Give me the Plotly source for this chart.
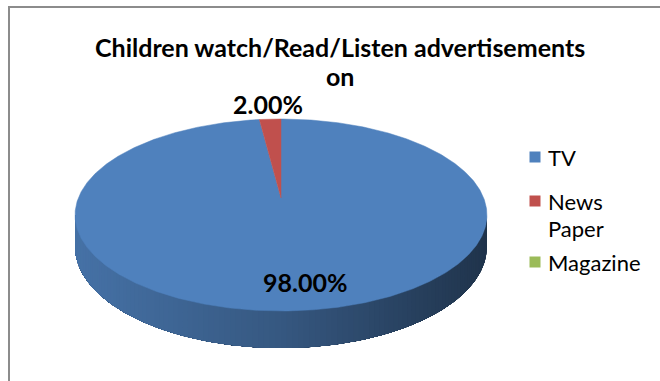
import numpy as np
import plotly.graph_objects as go

# ---- data -------------------------------------------------------------
categories = ["TV", "News Paper", "Magazine"]
values = [98.0, 2.0, 0.0]
colors = ["#4F81BD", "#C0504D", "#9BBB59"]
title_lines = ["Children watch/Read/Listen advertisements", "on"]

# ---- page geometry (pixel units, y grows downward) --------------------
W, H = 660, 381
CX, CY = 281.0, 198.0      # image of the pie centre
SX = 202.7                 # horizontal radius scale
A = 57.93                  # vertical radius scale
C = -0.177                 # perspective term (near edge looks larger)
DEPTH = 30.5               # thickness of the disc
FONT = "Lato"


def proj(u, v, drop=0.0):
    """Map a point of the unit disc (u right, v toward viewer) to the page."""
    w = 1.0 + C * v
    return CX + SX * u / w, (CY + A * v + drop) / w


def rim(theta_deg, drop=0.0):
    t = np.radians(theta_deg)
    return proj(np.sin(t), -np.cos(t), drop)


def hex_rgb(h):
    h = h.lstrip("#")
    return tuple(int(h[i:i + 2], 16) for i in (0, 2, 4))


def shade(h, f):
    r, g, b = hex_rgb(h)
    return "rgb(%d,%d,%d)" % (round(r * f), round(g * f), round(b * f))


total = float(sum(values))
bounds = np.concatenate([[0.0], np.cumsum(values) / total * 360.0])

fig = go.Figure()

# ---- side wall: the visible front rim, shaded left-to-right -----------
# Each band covers from its own start to the far end of the wall, so the
# next band paints over it and no seams show between neighbours.
lim = np.degrees(np.arcsin(-C))
th_right, th_left = 90.0 + lim, 270.0 - lim
edges = np.linspace(th_right, th_left, 121)
for a0, a1 in zip(edges[:-1], edges[1:]):
    mid = 0.5 * (a0 + a1)
    k = int(np.searchsorted(bounds, mid, side="right") - 1)
    k = min(max(k, 0), len(values) - 1)
    arc = np.linspace(a0, th_left, max(int((th_left - a0) * 2), 3))
    xt, yt = rim(arc)
    xb, yb = rim(arc[::-1], DEPTH)
    xs = np.concatenate([xt, xb, [xt[0]]])
    ys = np.concatenate([yt, yb, [yt[0]]])
    xm = rim(mid)[0]
    f = np.interp(xm, [75, 281, 487], [0.88, 0.68, 0.40])
    col = shade(colors[k], f)
    fig.add_trace(go.Scatter(x=xs, y=ys, mode="lines", fill="toself",
                             fillcolor=col, line=dict(width=0),
                             hoverinfo="skip", showlegend=False))

# ---- top face slices ---------------------------------------------------
for k, (name, val) in enumerate(zip(categories, values)):
    if val <= 0:
        continue
    a0, a1 = bounds[k], bounds[k + 1]
    n = max(int((a1 - a0) * 2), 4)
    xa, ya = rim(np.linspace(a0, a1, n))
    xs = np.concatenate([[CX], xa, [CX]])
    ys = np.concatenate([[CY], ya, [CY]])
    fig.add_trace(go.Scatter(x=xs, y=ys, mode="lines", fill="toself",
                             fillcolor=colors[k],
                             line=dict(color=colors[k], width=0.5),
                             name=name, showlegend=False,
                             hovertemplate=name + ": %{text}<extra></extra>",
                             text=["%.2f%%" % (val / total * 100)] * len(xs)))

# ---- data labels -------------------------------------------------------
annotations = []
for k, val in enumerate(values):
    if val <= 0:
        continue
    pct = val / total * 100
    mid = np.radians(0.5 * (bounds[k] + bounds[k + 1]))
    r = 0.78 if pct > 10 else 1.24
    lx, ly = proj(r * np.sin(mid), -r * np.cos(mid))
    if pct > 10:
        lx += 12
    annotations.append(dict(x=lx, y=ly, xref="x", yref="y",
                            text="%.2f%%" % pct, showarrow=False,
                            font=dict(family=FONT, size=25, color="black",
                                      weight="bold")))

# ---- legend ------------------------------------------------------------
leg_x_box, leg_x_text = 535, 546
leg_y = [157, 201, 262]
leg_line = 27
for k, name in enumerate(categories):
    fig.add_trace(go.Scatter(x=[leg_x_box], y=[leg_y[k]], mode="markers",
                             marker=dict(symbol="square", size=11,
                                         color=colors[k]),
                             hoverinfo="skip", showlegend=False))
    for j, line in enumerate(name.split(" ")):
        annotations.append(dict(x=leg_x_text, y=leg_y[k] + j * leg_line,
                                xref="x", yref="y", xanchor="left",
                                yanchor="middle", text=line, showarrow=False,
                                font=dict(family=FONT, size=22,
                                          color="black")))

# ---- title -------------------------------------------------------------
title_y = [47, 76]
for line, ty in zip(title_lines, title_y):
    annotations.append(dict(x=340, y=ty, xref="x", yref="y", text=line,
                            showarrow=False, xanchor="center",
                            yanchor="middle",
                            font=dict(family=FONT, size=25, color="black",
                                      weight="bold")))

fig.update_layout(
    width=W, height=H, autosize=False,
    margin=dict(l=0, r=0, t=0, b=0),
    paper_bgcolor="white", plot_bgcolor="white",
    xaxis=dict(range=[0, W], visible=False, fixedrange=True),
    yaxis=dict(range=[H, 0], visible=False, fixedrange=True),
    annotations=annotations,
    shapes=[dict(type="rect", xref="x", yref="y", x0=9, y0=7, x1=W + 20,
                 y1=H + 20, line=dict(color="#8C8C8C", width=2),
                 fillcolor="rgba(0,0,0,0)", layer="above")],
    showlegend=False,
)

fig.write_html("out.html")
